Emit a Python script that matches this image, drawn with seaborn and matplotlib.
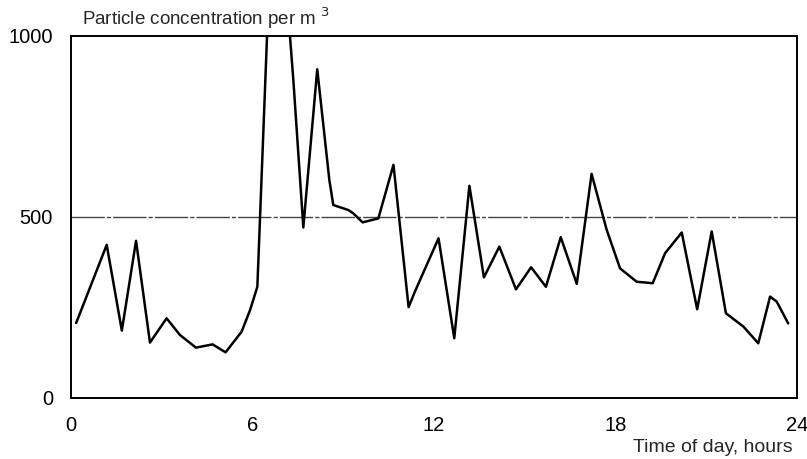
import pandas as pd
import matplotlib.pyplot as plt
import seaborn as sns

# values (hour of day, particles per m3)
hours = [0.17, 1.18, 1.68, 2.15, 2.61, 3.16, 3.6, 4.13, 4.68, 5.11, 5.64, 5.92,
         6.16, 6.55, 7.1, 7.35, 7.68, 8.14, 8.54, 8.67, 9.17, 9.33, 9.64, 10.16,
         10.66, 11.16, 11.37, 12.15, 12.67, 13.17, 13.65, 14.16, 14.71, 15.21,
         15.7, 16.19, 16.72, 17.21, 17.71, 18.15, 18.7, 19.23, 19.64, 20.19,
         20.7, 21.18, 21.65, 22.23, 22.72, 23.11, 23.33, 23.71]
concentration = [207, 423, 186, 434, 153, 220, 174, 139, 148, 126, 183, 243,
                 307, 1150, 1150, 878, 471, 908, 602, 533, 519, 510, 485, 496,
                 644, 251, 294, 441, 165, 586, 333, 418, 300, 361,
                 307, 444, 315, 619, 464, 358, 321, 317, 400, 457,
                 245, 460, 234, 197, 151, 280, 266, 206]

x_ticks = [0, 6, 12, 18, 24]
y_ticks = [0, 500, 1000]
reference_level = 500

df = pd.DataFrame({"hour": hours, "conc": concentration})

sns.set_style("white")
plt.rcParams['font.family'] = ['Liberation Sans', 'DejaVu Sans']

fig = plt.figure(figsize=(8.07, 4.59), dpi=100)
ax = fig.add_axes([0.088, 0.133, 0.8996, 0.7887])

ax.axhline(reference_level, color='#444444', lw=1.0, ls=(0, (24, 1.5, 3, 1.5)), zorder=1)
sns.lineplot(data=df, x='hour', y='conc', sort=False, color='black', lw=1.8, ax=ax, zorder=2)

ax.set_xlim(0, 24)
ax.set_ylim(0, 1000)
ax.set_xticks(x_ticks)
ax.set_yticks(y_ticks)
ax.set_yticks([250, 750], minor=True)
ax.tick_params(axis='both', which='major', direction='out', length=4, width=1.2,
               labelsize=14.5, colors='black')
ax.tick_params(axis='x', which='major', pad=9)
ax.tick_params(axis='y', which='major', pad=9)
ax.tick_params(axis='y', which='minor', direction='in', length=2, width=1)
ax.set_xlabel('')
ax.set_ylabel('')
for side in ax.spines.values():
    side.set_visible(True)
    side.set_color('black')
    side.set_linewidth(1.4)

fig.text(82 / 807, 1 - 25 / 459, r'Particle concentration per m $^{3}$',
         fontsize=13.5, ha='left', va='baseline')
fig.text(793 / 807, 1 - 452 / 459, 'Time of day, hours',
         fontsize=14, ha='right', va='baseline')

fig.savefig('out.png', dpi=100)
